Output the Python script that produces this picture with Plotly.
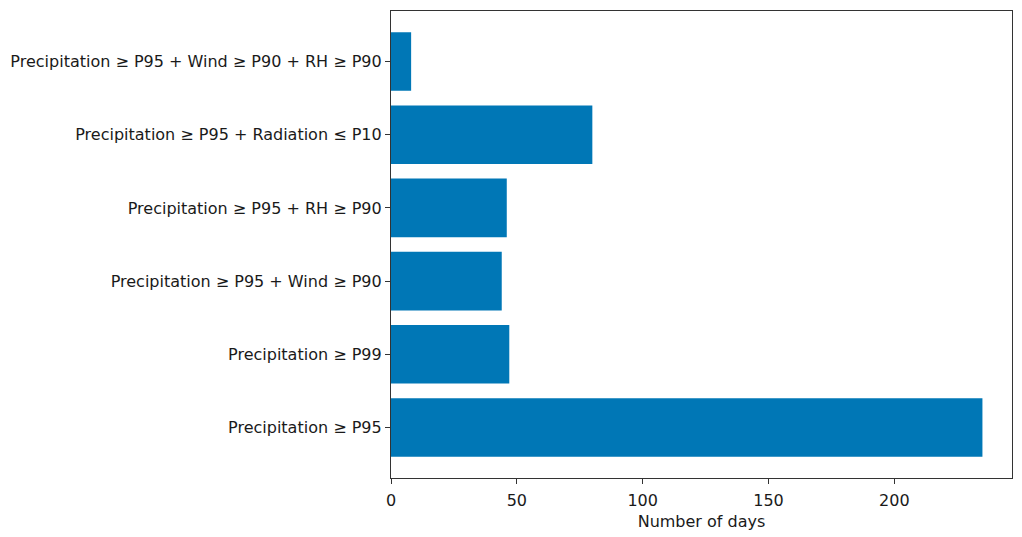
import plotly.graph_objects as go

categories = [
    "Precipitation ≥ P95",
    "Precipitation ≥ P99",
    "Precipitation ≥ P95 + Wind ≥ P90",
    "Precipitation ≥ P95 + RH ≥ P90",
    "Precipitation ≥ P95 + Radiation ≤ P10",
    "Precipitation ≥ P95 + Wind ≥ P90 + RH ≥ P90",
]
days = [235, 47, 44, 46, 80, 8]
x_ticks = [0, 50, 100, 150, 200]

fig = go.Figure(go.Bar(
    x=days, y=categories, orientation="h", width=0.8,
    marker=dict(color="#0077B6", line=dict(width=0)),
))

font = dict(family="DejaVu Sans", size=16, color="#1a1a1a")
fig.update_layout(
    width=1022, height=537,
    margin=dict(l=391, r=10, t=11, b=59, autoexpand=False),
    plot_bgcolor="white", paper_bgcolor="white",
    font=font, showlegend=False,
    xaxis=dict(
        range=[0, 246.75], tickvals=x_ticks, ticks="outside", ticklen=5,
        tickwidth=1.2, tickcolor="#333", showline=True, linecolor="#333",
        linewidth=1.3, mirror=True, showgrid=False, zeroline=False,
        automargin=False, ticklabelstandoff=3,
        title=dict(text="Number of days", font=font, standoff=6),
        tickfont=font,
    ),
    yaxis=dict(
        type="category", categoryorder="array", categoryarray=categories,
        range=[-0.69, 5.69], ticks="outside", ticklen=5, tickwidth=1.2,
        tickcolor="#333", showline=True, linecolor="#333", linewidth=1.3,
        mirror=True, showgrid=False, zeroline=False, tickfont=font,
        automargin=False,
    ),
)

fig.write_html("out.html")
